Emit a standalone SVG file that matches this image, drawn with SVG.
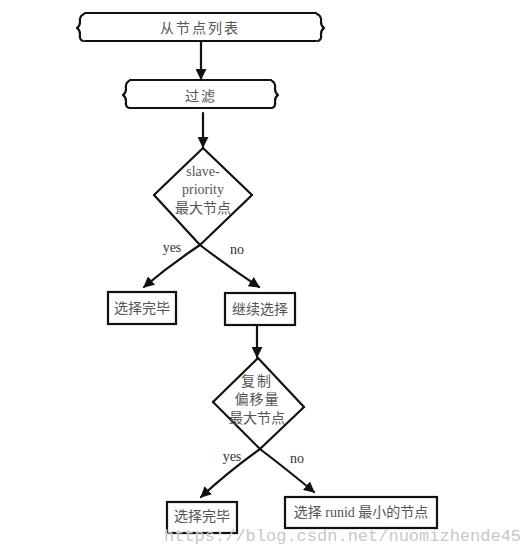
<svg xmlns="http://www.w3.org/2000/svg" width="525" height="546" viewBox="0 0 525 546">
<style>
.ln{fill:none;stroke:#111;stroke-width:2.2;stroke-linecap:round;stroke-linejoin:round}
.bx{fill:#fff;stroke:#111;stroke-width:2.2}
.t{font-family:"Liberation Serif","Noto Sans CJK SC",serif;font-size:14px;fill:#555;text-anchor:middle}
.lb{font-family:"Liberation Serif",serif;font-size:14px;fill:#333;text-anchor:middle}
.wm{font-family:"Liberation Mono",monospace;font-size:17px;fill:#c8c8c8}
</style>
<defs>
<marker id="ah" viewBox="0 0 10 10" refX="9" refY="5" markerWidth="5" markerHeight="5" orient="auto" markerUnits="strokeWidth">
<path d="M0,0 L10,5 L0,10 Z" fill="#111"/>
</marker>
</defs>
<rect width="525" height="546" fill="#fff"/>
<g id="connectors">
<path class="ln" d="M201,41 L201,79" marker-end="url(#ah)"/>
<path class="ln" d="M203,113 L203,147" marker-end="url(#ah)"/>
<path class="ln" d="M154,195 L200,245 Q230,268 259,287" marker-end="url(#ah)"/>
<path class="ln" d="M252,195 L200,245 Q170,265 144,287" marker-end="url(#ah)"/>
<path class="ln" d="M257,325 L257,357" marker-end="url(#ah)"/>
<path class="ln" d="M213,402 L260,449 Q290,472 314,492" marker-end="url(#ah)"/>
<path class="ln" d="M304,407 L260,449 Q228,472 201,497" marker-end="url(#ah)"/>
</g>
<g id="node-list">
<path class="ln" d="M85,13 L316,13 M85,41 L316,41"/>
<path class="ln" d="M84,14 Q79,16 80,22 Q80,26 77,28 Q80,30 80,34 Q79,40 83,41"/>
<path class="ln" d="M317,14 Q322,16 321,22 Q321,26 324,28 Q321,30 321,34 Q322,40 318,41"/>
<text class="t" x="200" y="33" letter-spacing="2">从节点列表</text>
</g>
<g id="filter">
<path class="ln" d="M130,80 L271,80 M130,108 L271,108"/>
<path class="ln" d="M129,81 Q125,83 126,89 Q126,93 123,95 Q126,97 126,101 Q125,107 129,108"/>
<path class="ln" d="M272,81 Q276,83 275,89 Q275,93 278,95 Q275,97 275,101 Q276,107 272,108"/>
<text class="t" x="201" y="101" letter-spacing="2">过滤</text>
</g>
<g id="decision-priority">
<path class="ln" d="M154,195 L203,148 L252,195"/>
<text class="t" x="203" y="176">slave-</text>
<text class="t" x="203" y="194">priority</text>
<text class="t" x="203" y="213">最大节点</text>
<text class="lb" x="172" y="252">yes</text>
<text class="lb" x="237" y="254">no</text>
</g>
<g id="done-1">
<rect class="bx" x="108" y="292" width="68" height="32"/>
<text class="t" x="142" y="313">选择完毕</text>
</g>
<g id="continue">
<rect class="bx" x="225" y="293" width="70" height="32"/>
<text class="t" x="260" y="314">继续选择</text>
</g>
<g id="decision-offset">
<path class="ln" d="M213,402 L258,358 L304,407"/>
<text class="t" x="257" y="386" letter-spacing="2">复制</text>
<text class="t" x="257" y="404" letter-spacing="1">偏移量</text>
<text class="t" x="257" y="423">最大节点</text>
<text class="lb" x="232" y="461">yes</text>
<text class="lb" x="297" y="463">no</text>
</g>
<g id="done-2">
<rect class="bx" x="167" y="502" width="70" height="31"/>
<text class="t" x="202" y="521">选择完毕</text>
</g>
<g id="runid">
<rect class="bx" x="285" y="497" width="152" height="31"/>
<text class="t" x="361" y="517">选择 runid 最小的节点</text>
</g>
<text class="wm" x="164" y="541">https://blog.csdn.net/nuomizhende45</text>
</svg>
